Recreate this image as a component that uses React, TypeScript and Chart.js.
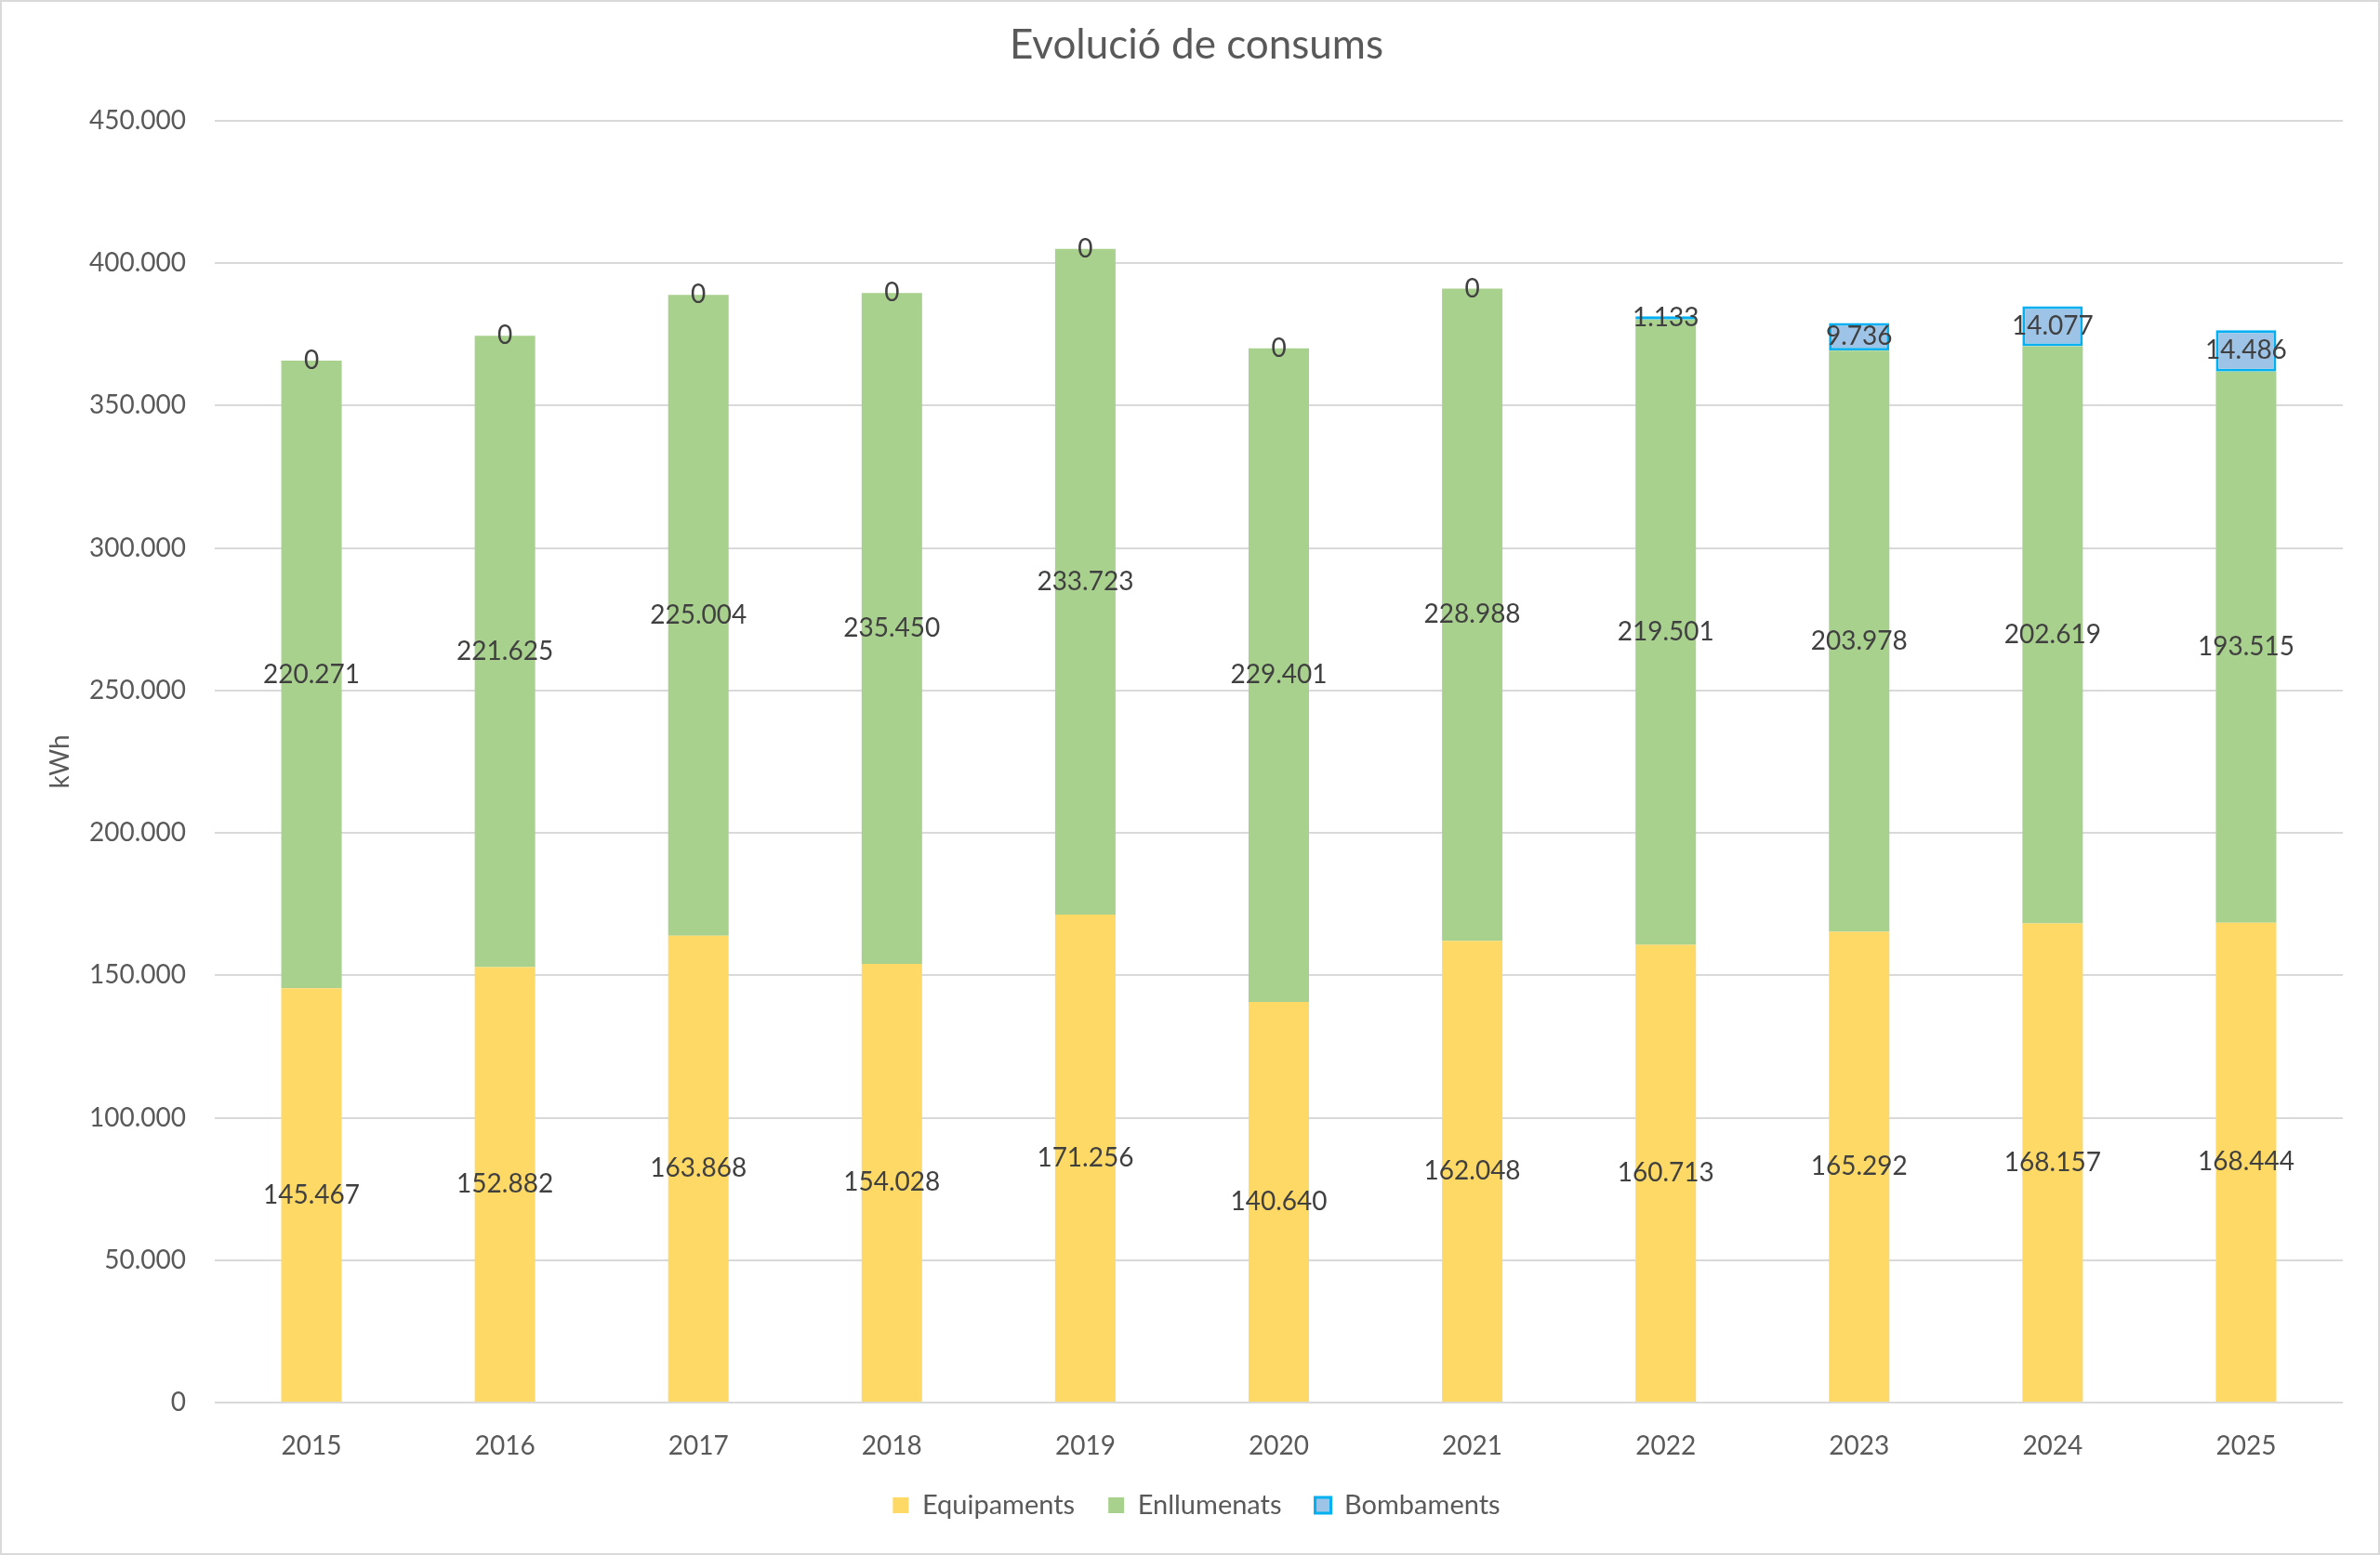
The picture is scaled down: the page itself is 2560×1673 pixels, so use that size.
import { useEffect, useRef } from "react";
import { Chart, registerables } from "chart.js";

Chart.register(...registerables);

const years = ["2015", "2016", "2017", "2018", "2019", "2020", "2021", "2022", "2023", "2024", "2025"];
const equipaments = [145467, 152882, 163868, 154028, 171256, 140640, 162048, 160713, 165292, 168157, 168444];
const enllumenats = [220271, 221625, 225004, 235450, 233723, 229401, 228988, 219501, 203978, 202619, 193515];
const bombaments = [0, 0, 0, 0, 0, 0, 0, 1133, 9736, 14077, 14486];
const yMax = 450000;
const yStep = 50000;

const FONT = "Lato, 'Noto Sans', sans-serif";

// 12345 -> "12.345"
function fmt(n: number) {
  return String(Math.round(n)).replace(/\B(?=(\d{3})+(?!\d))/g, ".");
}

const segmentLabels = {
  id: "segmentLabels",
  afterDatasetsDraw(chart: any) {
    const ctx = chart.ctx;
    ctx.save();
    ctx.font = `28px ${FONT}`;
    ctx.fillStyle = "#404040";
    ctx.textAlign = "center";
    ctx.textBaseline = "middle";
    chart.data.datasets.forEach((ds: any, i: number) => {
      const meta = chart.getDatasetMeta(i);
      meta.data.forEach((bar: any, j: number) => {
        const { x, y, base } = bar.getProps(["x", "y", "base"], true);
        ctx.fillText(fmt(ds.data[j]), x, (y + base) / 2);
      });
    });
    ctx.restore();
  },
};

const frame = {
  id: "frame",
  afterDraw(chart: any) {
    const ctx = chart.ctx;
    ctx.save();
    ctx.strokeStyle = "#d9d9d9";
    ctx.lineWidth = 2;
    ctx.strokeRect(1, 1, chart.width - 2, chart.height - 2);
    ctx.restore();
  },
};

export default function App() {
  const canvasRef = useRef<HTMLCanvasElement>(null);
  const chartRef = useRef<Chart | null>(null);

  useEffect(() => {
    document.body.style.margin = "0";
    if (!canvasRef.current) return;

    chartRef.current?.destroy();
    chartRef.current = new Chart(canvasRef.current, {
      type: "bar",
      data: {
        labels: years,
        datasets: [
          {
            label: "Equipaments",
            data: equipaments,
            backgroundColor: "#FFD966",
            borderWidth: 0,
          },
          {
            label: "Enllumenats",
            data: enllumenats,
            backgroundColor: "#A9D18E",
            borderWidth: 0,
          },
          {
            label: "Bombaments",
            data: bombaments,
            backgroundColor: "#9DC3E6",
            borderColor: "#00B0F0",
            borderWidth: bombaments.map((v) => (v > 0 ? 3 : 0)),
            borderSkipped: false,
          },
        ],
      },
      options: {
        animation: false,
        responsive: true,
        maintainAspectRatio: false,
        layout: { padding: { left: 54, right: 40, top: 0, bottom: 29 } },
        datasets: {
          bar: { categoryPercentage: 1, barPercentage: 0.3125 },
        },
        plugins: {
          title: {
            display: true,
            text: "Evolució de consums",
            color: "#595959",
            font: { family: FONT, size: 44, weight: "normal" },
            padding: { top: 22, bottom: 55 },
          },
          legend: {
            position: "bottom",
            labels: {
              color: "#595959",
              font: { family: FONT, size: 29 },
              boxWidth: 17,
              boxHeight: 17,
              padding: 36,
              generateLabels(chart: any) {
                const items = Chart.defaults.plugins.legend.labels.generateLabels(chart);
                items.forEach((it: any) => {
                  if (it.text === "Bombaments") {
                    it.lineWidth = 3;
                    it.strokeStyle = "#00B0F0";
                  } else {
                    it.lineWidth = 0;
                  }
                });
                return items;
              },
            },
          },
          tooltip: { enabled: false },
        },
        scales: {
          x: {
            stacked: true,
            grid: { display: false },
            border: { display: false },
            ticks: {
              color: "#595959",
              font: { family: FONT, size: 28 },
              padding: 22,
            },
            afterFit(scale: any) {
              scale.height = 60;
            },
          },
          y: {
            stacked: true,
            min: 0,
            max: yMax,
            grid: { color: "#d9d9d9", lineWidth: 2, drawTicks: false },
            border: { display: false },
            ticks: {
              stepSize: yStep,
              color: "#595959",
              font: { family: FONT, size: 28 },
              padding: 31,
              callback: (v: any) => fmt(Number(v)),
            },
            title: {
              display: true,
              text: "kWh",
              color: "#595959",
              font: { family: FONT, size: 28 },
              padding: { top: -6, bottom: 0 },
            },
            afterFit(scale: any) {
              scale.width = 177;
            },
          },
        },
      },
      plugins: [segmentLabels, frame],
    });

    return () => {
      chartRef.current?.destroy();
    };
  }, []);

  return (
    <div style={{ position: "relative", width: "2560px", height: "1673px", background: "#fff" }}>
      <canvas ref={canvasRef} />
    </div>
  );
}
